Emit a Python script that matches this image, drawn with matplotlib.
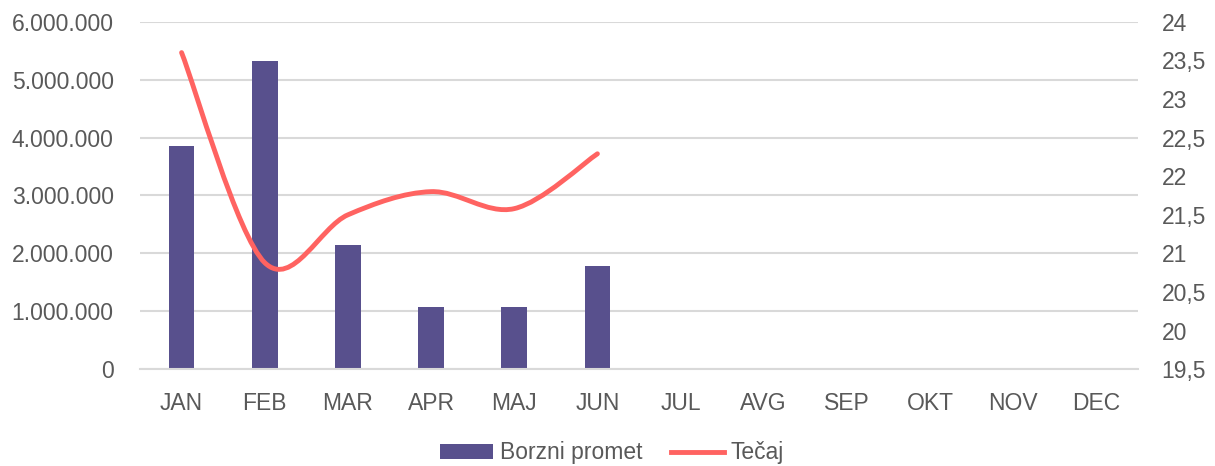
import matplotlib
matplotlib.use('Agg')
import matplotlib.pyplot as plt
import numpy as np
from matplotlib.path import Path
from matplotlib.patches import PathPatch, Patch
from matplotlib.lines import Line2D
from matplotlib.ticker import FuncFormatter, MultipleLocator

plt.rcParams.update({
    'font.family': ['Liberation Sans', 'DejaVu Sans'],
    'font.size': 16.5,
})

months = ['JAN', 'FEB', 'MAR', 'APR', 'MAJ', 'JUN', 'JUL', 'AVG', 'SEP', 'OKT', 'NOV', 'DEC']
promet = [3860000, 5320000, 2140000, 1075000, 1075000, 1780000]
tecaj = [23.60, 20.88, 21.50, 21.80, 21.58, 22.29]

BAR = '#58508d'
LINE = '#ff6361'
GRID = '#d9d9d9'
TXT = '#595959'

fig = plt.figure(figsize=(12.15, 4.66), dpi=100)
ax = fig.add_axes([140 / 1215, 1 - 369.3 / 466, 998 / 1215, 347.6 / 466])
ax2 = ax.twinx()

x = np.arange(len(months))
ax.bar(x[:len(promet)], promet, width=0.31, color=BAR, zorder=2)
ax.set_xlim(-0.5, len(months) - 0.5)
ax.set_ylim(0, 6000000)
ax.yaxis.set_major_locator(MultipleLocator(1000000))
ax.yaxis.set_major_formatter(FuncFormatter(lambda v, p: f'{int(v):,}'.replace(',', '.')))
ax.set_xticks(x)
ax.set_xticklabels(months)
ax.grid(axis='y', color=GRID, linewidth=1.5, zorder=0)
ax.set_axisbelow(True)

# smoothed line (Excel-like catmull-rom bezier)
xs = np.arange(len(tecaj), dtype=float)
ys = np.array(tecaj)
verts = [(xs[0], ys[0])]
codes = [Path.MOVETO]
n = len(xs)
for i in range(n - 1):
    p0 = np.array([xs[max(i - 1, 0)], ys[max(i - 1, 0)]])
    p1 = np.array([xs[i], ys[i]])
    p2 = np.array([xs[i + 1], ys[i + 1]])
    p3 = np.array([xs[min(i + 2, n - 1)], ys[min(i + 2, n - 1)]])
    c1 = p1 + (p2 - p0) / 6
    c2 = p2 - (p3 - p1) / 6
    verts += [tuple(c1), tuple(c2), tuple(p2)]
    codes += [Path.CURVE4] * 3
ax2.add_patch(PathPatch(Path(verts, codes), facecolor='none', edgecolor=LINE,
                        linewidth=3.5, capstyle='round', zorder=3))
ax2.set_ylim(19.5, 24)
ax2.yaxis.set_major_locator(MultipleLocator(0.5))
ax2.yaxis.set_major_formatter(FuncFormatter(lambda v, p: f'{v:g}'.replace('.', ',')))

for a in (ax, ax2):
    for s in a.spines.values():
        s.set_visible(False)
ax.spines['bottom'].set_visible(True)
ax.spines['bottom'].set_color(GRID)
ax.spines['bottom'].set_linewidth(1.5)

ax.tick_params(axis='y', length=0, pad=19, colors=TXT, labelsize=16.5)
ax.tick_params(axis='x', length=0, pad=16, colors=TXT, labelsize=16.5)
ax2.tick_params(axis='y', length=0, pad=17, colors=TXT, labelsize=16.5)

handles = [Patch(facecolor=BAR, label='Borzni promet'),
           Line2D([0], [0], color=LINE, linewidth=3.5, label='Tečaj')]
fig.legend(handles=handles, loc='center', bbox_to_anchor=(612 / 1215, 1 - 453 / 466),
           ncol=2, frameon=False, handlelength=2.3, handleheight=0.6,
           handletextpad=0.3, columnspacing=1.25, labelcolor=TXT, fontsize=16.5)

fig.savefig('out.png', dpi=100)
